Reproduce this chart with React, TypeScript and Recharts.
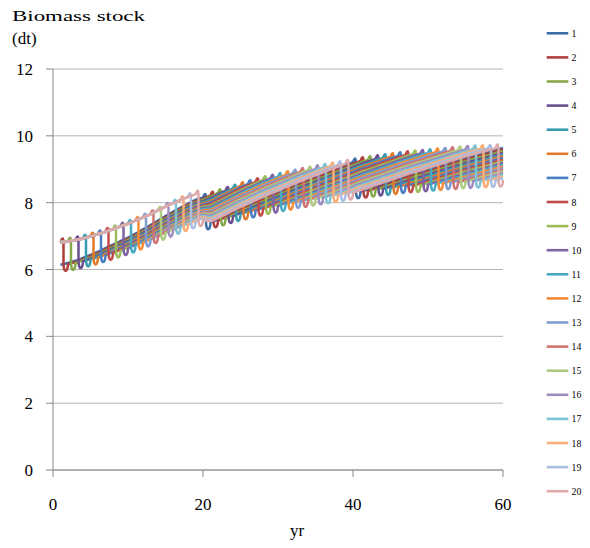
import React from 'react';
import { LineChart, Line, XAxis, YAxis, CartesianGrid, Label, Legend } from 'recharts';

// Stock of a stand that has not been harvested yet (years 1-19)
const INTACT_STOCK = [
  6.82, 6.84, 6.88, 6.93, 6.99, 7.06, 7.13, 7.21, 7.29, 7.37,
  7.46, 7.56, 7.66, 7.77, 7.88, 7.98, 8.08, 8.17, 8.25,
];

// Stock right after a harvest, by calendar year (years 1-60)
const HARVEST_FLOOR = [
  6.14, 6.16, 6.19, 6.24, 6.29, 6.35, 6.42, 6.49, 6.56, 6.63,
  6.71, 6.80, 6.89, 6.99, 7.09, 7.18, 7.27, 7.35, 7.43, 7.50,
  7.40, 7.46, 7.52, 7.59, 7.65, 7.70, 7.76, 7.81, 7.86, 7.90,
  7.95, 7.99, 8.04, 8.07, 8.11, 8.15, 8.18, 8.22, 8.25, 8.29,
  8.33, 8.35, 8.38, 8.41, 8.43, 8.46, 8.49, 8.51, 8.52, 8.54,
  8.56, 8.58, 8.60, 8.61, 8.63, 8.64, 8.65, 8.66, 8.67, 8.68,
];

// Stock of a stand 19 years after its harvest, by calendar year (years 1-60)
const REGROWTH_CEILING = [
  6.83, 6.85, 6.88, 6.93, 6.98, 7.04, 7.11, 7.18, 7.25, 7.32,
  7.40, 7.49, 7.58, 7.68, 7.78, 7.87, 7.96, 8.04, 8.12, 8.15,
  8.22, 8.29, 8.36, 8.43, 8.50, 8.56, 8.62, 8.68, 8.73, 8.78,
  8.83, 8.88, 8.93, 8.97, 9.01, 9.05, 9.09, 9.13, 9.17, 9.21,
  9.25, 9.28, 9.31, 9.34, 9.37, 9.40, 9.43, 9.45, 9.47, 9.49,
  9.51, 9.53, 9.55, 9.57, 9.59, 9.60, 9.61, 9.62, 9.63, 9.64,
];

const ROTATION = 20;

const SERIES_NAMES = [
  '1', '2', '3', '4', '5', '6', '7', '8', '9', '10',
  '11', '12', '13', '14', '15', '16', '17', '18', '19', '20',
];

const SERIES_COLORS = [
  '#3F6DA8', '#B03E3B', '#86A848', '#6A4F90', '#3A9AB2', '#E27A2E',
  '#4A7EC2', '#C24B48', '#9CBC5A', '#7F63A2', '#46AAC4', '#F48B3B',
  '#7F9CD1', '#CE7472', '#AFCB80', '#9E8CBE', '#7DC2D5', '#F9AD79',
  '#A9BEE0', '#DDAAA9',
];

const X_TICKS = [0, 20, 40, 60];
const Y_TICKS = [0, 2, 4, 6, 8, 10, 12];

const FONT = "'Liberation Serif', 'DejaVu Serif', 'Times New Roman', serif";

// Stand k is first harvested in year k, then every ROTATION years; before its first
// harvest it carries the intact stock, afterwards its stock sits between the floor
// and ceiling of that year according to the years elapsed since the last harvest.
const YEARS = HARVEST_FLOOR.map((_, i) => i + 1);
const ROWS = YEARS.map((year, i) => {
  const row: Record<string, number> = { year };
  SERIES_NAMES.forEach((name, j) => {
    const first = j + 1;
    if (year < first) {
      row[name] = INTACT_STOCK[i];
    } else {
      const age = (year - first) % ROTATION;
      row[name] =
        HARVEST_FLOOR[i] + ((REGROWTH_CEILING[i] - HARVEST_FLOOR[i]) * age) / (ROTATION - 1);
    }
  });
  return row;
});

// Line interpolation: smooth cardinal segments for regular growth, and a rounded
// near-vertical drop (with an overshoot above and below) for steep segments.
const STEEP = 1.6;
const TOP_OVERSHOOT = 5;
const BOTTOM_OVERSHOOT = 9;

const spreadsheetCurve: any = (context: any) => {
  let pts: number[][] = [];
  const isSteep = (a: number[], b: number[]) =>
    Math.abs(b[1] - a[1]) > STEEP * Math.abs(b[0] - a[0]);
  return {
    areaStart() {},
    areaEnd() {},
    lineStart() {
      pts = [];
    },
    point(x: number, y: number) {
      pts.push([+x, +y]);
    },
    lineEnd() {
      const n = pts.length;
      if (n === 0) return;
      context.moveTo(pts[0][0], pts[0][1]);
      const tan = pts.map((p, i) => {
        const prev = i > 0 ? pts[i - 1] : null;
        const next = i < n - 1 ? pts[i + 1] : null;
        const okPrev = prev && !isSteep(prev, p);
        const okNext = next && !isSteep(p, next);
        if (okPrev && okNext) return [(next![0] - prev![0]) / 2, (next![1] - prev![1]) / 2];
        if (okNext) return [next![0] - p[0], next![1] - p[1]];
        if (okPrev) return [p[0] - prev![0], p[1] - prev![1]];
        return [0, 0];
      });
      for (let i = 0; i < n - 1; i++) {
        const p1 = pts[i];
        const p2 = pts[i + 1];
        if (!isSteep(p1, p2)) {
          context.bezierCurveTo(
            p1[0] + tan[i][0] / 3,
            p1[1] + tan[i][1] / 3,
            p2[0] - tan[i + 1][0] / 3,
            p2[1] - tan[i + 1][1] / 3,
            p2[0],
            p2[1],
          );
        } else {
          const dx = p2[0] - p1[0];
          const s = Math.sign(p2[1] - p1[1]);
          const xm = p1[0] + dx * 0.4;
          context.bezierCurveTo(
            p1[0] + dx * 0.25,
            p1[1] - s * TOP_OVERSHOOT,
            xm,
            p1[1] - s * TOP_OVERSHOOT,
            xm,
            p1[1] + s * 1,
          );
          context.lineTo(xm, p2[1] - s * 1);
          context.bezierCurveTo(
            xm,
            p2[1] + s * BOTTOM_OVERSHOOT,
            p2[0] - dx * 0.05,
            p2[1] + s * BOTTOM_OVERSHOOT,
            p2[0],
            p2[1],
          );
        }
      }
    },
  };
};

const Txt = ({ x, y, anchor, size, dy, width, children }: any) => (
  <text
    x={x}
    y={y}
    dy={dy}
    textAnchor={anchor}
    fontSize={size}
    fill="#000"
    textLength={width}
    lengthAdjust={width ? 'spacingAndGlyphs' : undefined}
    style={{ fontFamily: FONT }}
  >
    {children}
  </text>
);

const YTick = ({ x, y, payload }: any) => (
  <Txt x={x} y={y} anchor="end" size={17} dy="0.36em">
    {payload.value}
  </Txt>
);

const XTick = ({ x, y, payload }: any) => (
  <Txt x={x} y={y} anchor="middle" size={17} dy="0.71em">
    {payload.value}
  </Txt>
);

const YTitle = () => (
  <g>
    <Txt x={12} y={21} anchor="start" size={15.5} width={133}>
      Biomass stock
    </Txt>
    <Txt x={12} y={44} anchor="start" size={17}>
      (dt)
    </Txt>
  </g>
);

const XTitle = ({ viewBox }: any) => (
  <Txt x={viewBox.x + viewBox.width / 2 + 19} y={viewBox.y + 66} anchor="middle" size={17}>
    yr
  </Txt>
);

const LegendBox = () => (
  <svg width={50} height={490}>
    {SERIES_NAMES.map((name, i) => {
      const y = 13.3 + 24.1 * i;
      return (
        <g key={name}>
          <line x1={6.7} x2={28.3} y1={y} y2={y} stroke={SERIES_COLORS[i]} strokeWidth={2.6} />
          <Txt x={31.5} y={y} anchor="start" size={9.8} dy="0.36em">
            {name}
          </Txt>
        </g>
      );
    })}
  </svg>
);

export default function App() {
  return (
    <div style={{ position: 'absolute', left: 0, top: 0, width: 590, height: 548, background: '#fff' }}>
      <LineChart
        width={590}
        height={548}
        data={ROWS}
        margin={{ top: 69, right: 87, bottom: 0, left: 0 }}
      >
        <CartesianGrid vertical={false} stroke="#b5b5b5" strokeWidth={1} />
        <XAxis
          dataKey="year"
          type="number"
          domain={[0, 60]}
          ticks={X_TICKS}
          interval={0}
          height={78}
          tickSize={7}
          tickMargin={21}
          axisLine={{ stroke: '#868686' }}
          tickLine={{ stroke: '#868686' }}
          tick={<XTick />}
        >
          <Label content={<XTitle />} />
        </XAxis>
        <YAxis
          type="number"
          domain={[0, 12]}
          ticks={Y_TICKS}
          interval={0}
          width={53}
          tickSize={7}
          tickMargin={13}
          axisLine={{ stroke: '#868686' }}
          tickLine={{ stroke: '#868686' }}
          tick={<YTick />}
        >
          <Label content={<YTitle />} />
        </YAxis>
        <Legend
          layout="vertical"
          align="center"
          verticalAlign="middle"
          content={<LegendBox />}
          wrapperStyle={{ left: 540, top: 20, width: 50, height: 490 }}
        />
        {SERIES_NAMES.map((name, i) => (
          <Line
            key={name}
            dataKey={name}
            name={name}
            type={spreadsheetCurve}
            stroke={SERIES_COLORS[i]}
            strokeWidth={2.5}
            dot={false}
            activeDot={false}
            isAnimationActive={false}
          />
        ))}
      </LineChart>
    </div>
  );
}
